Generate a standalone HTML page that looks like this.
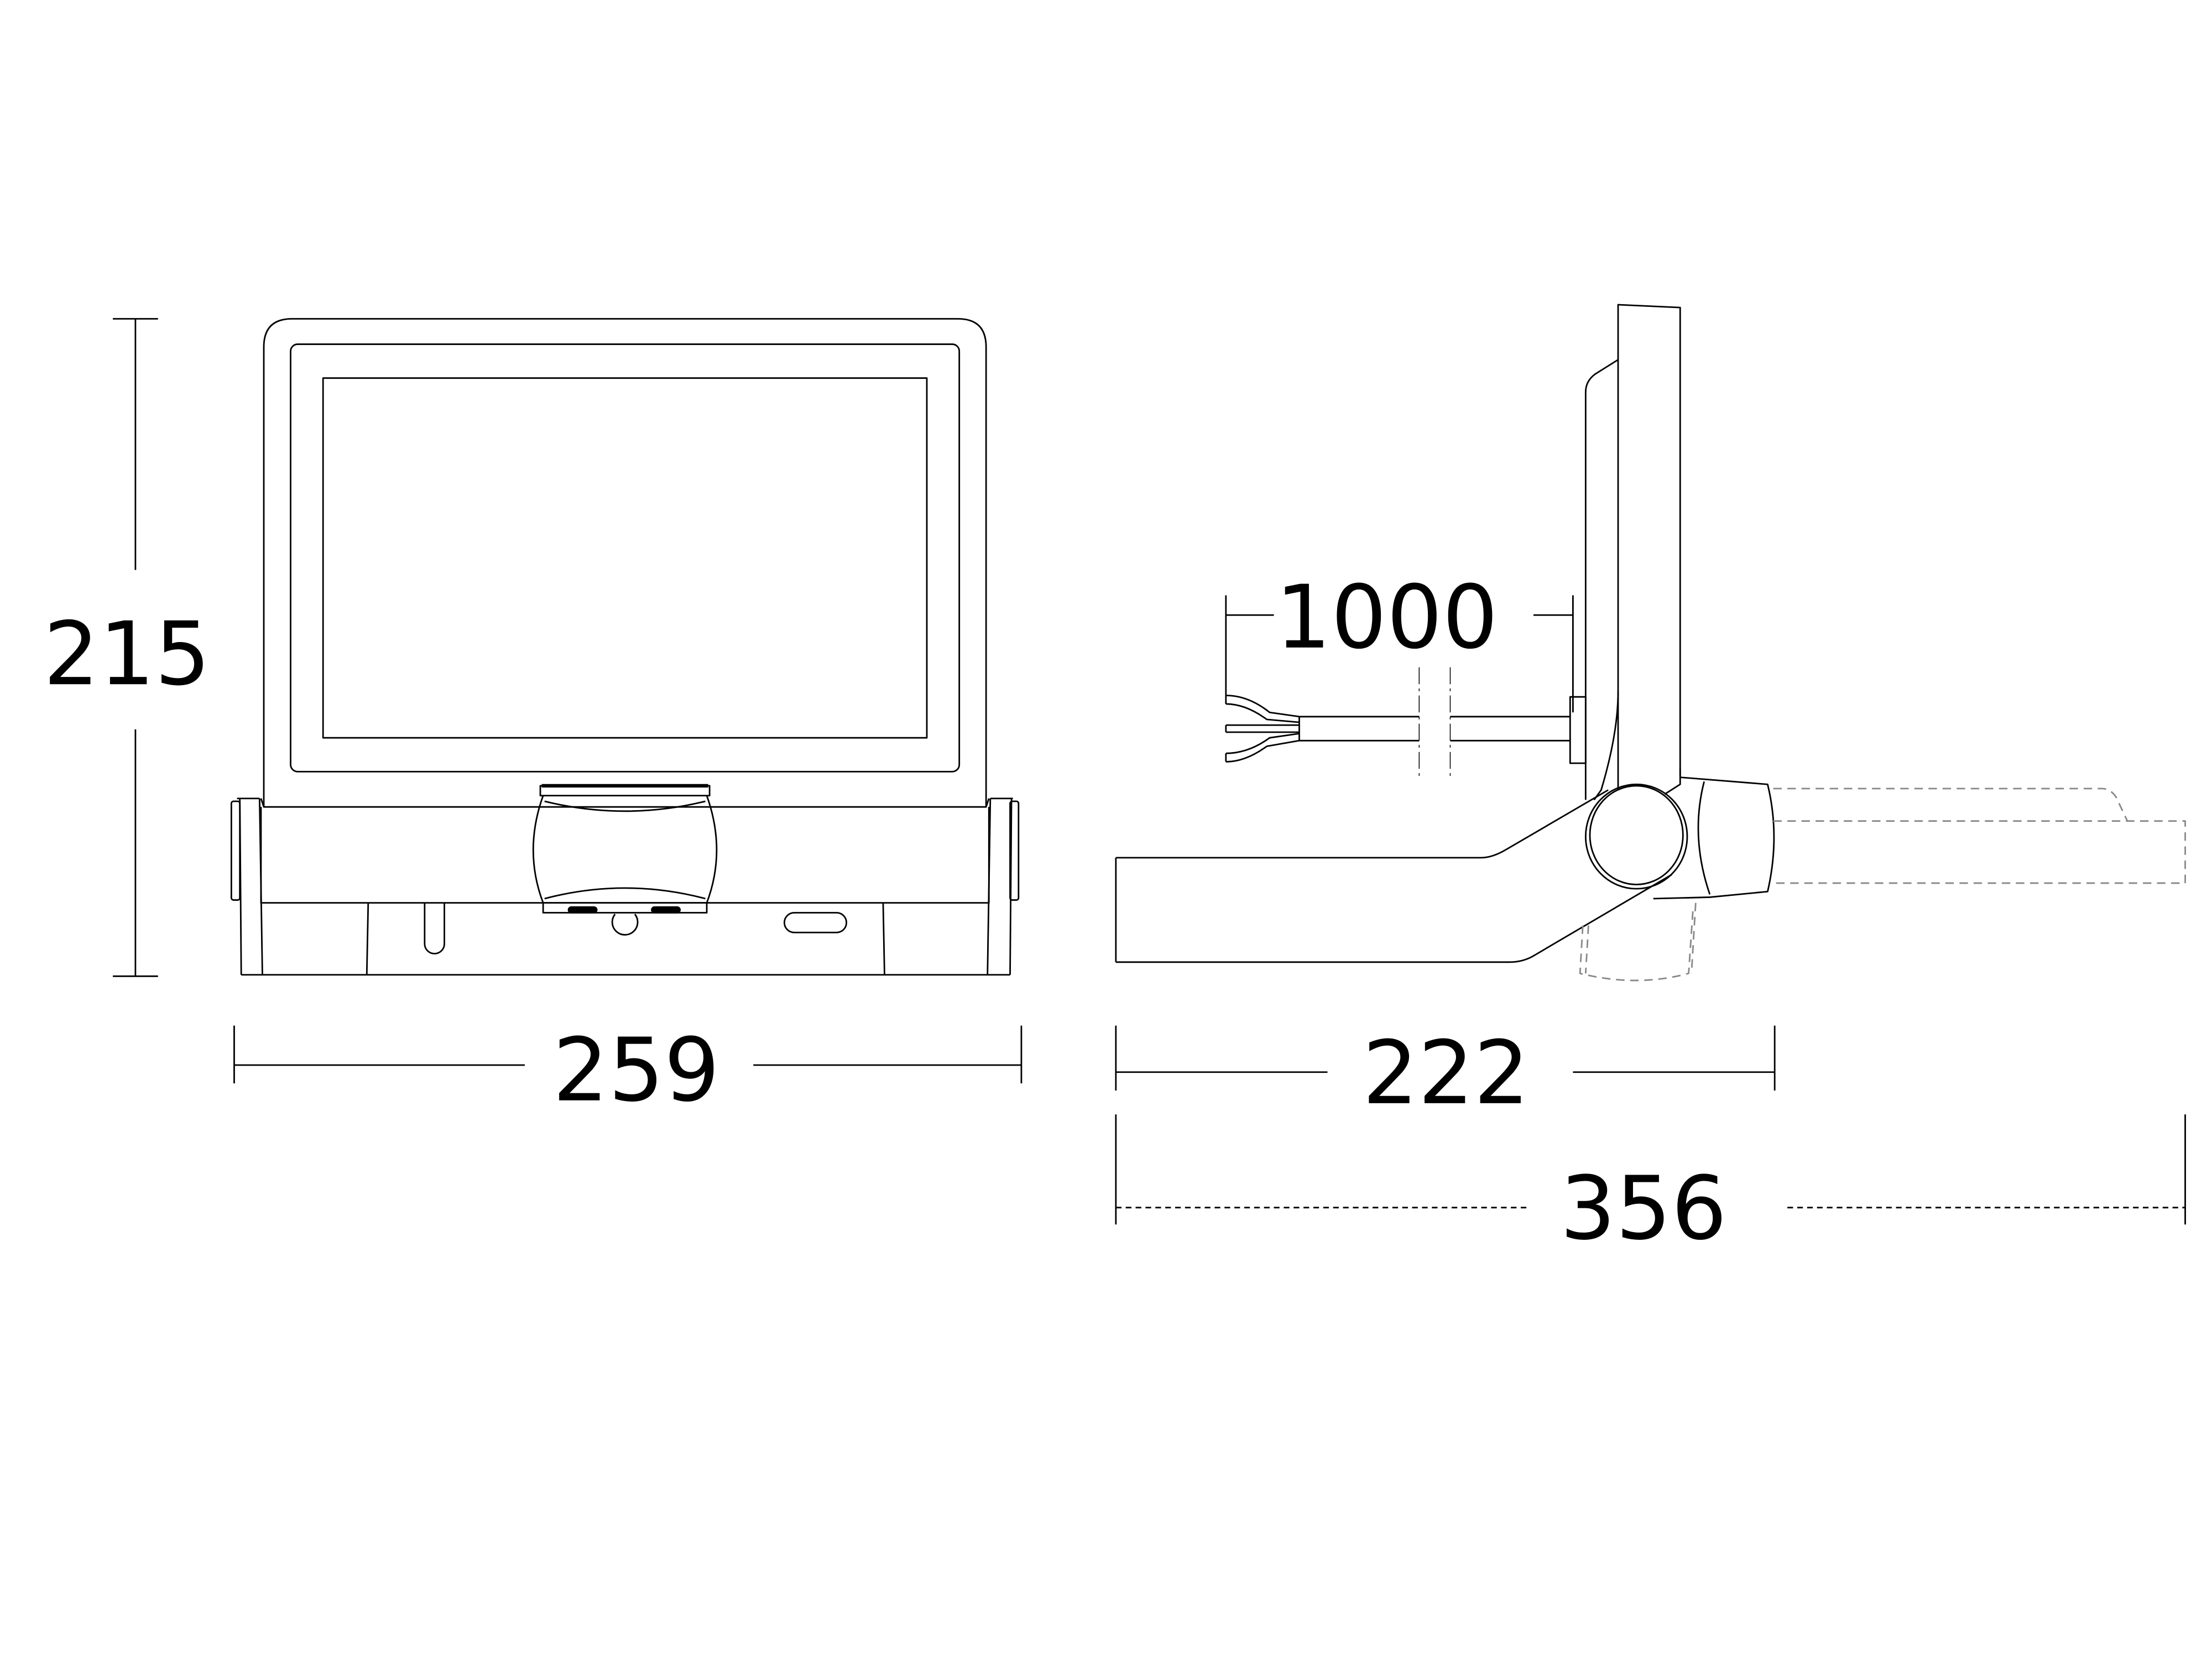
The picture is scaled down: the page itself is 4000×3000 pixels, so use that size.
<!DOCTYPE html>
<html><head><style>html,body{margin:0;padding:0;background:#fff}svg{display:block}</style></head>
<body>
<svg width="4000" height="3000" viewBox="0 0 1568 1176" xmlns="http://www.w3.org/2000/svg" fill="none" stroke="#000" stroke-width="1.1" stroke-linejoin="round">
<!-- 215 dim -->
<path d="M96 226V404M96 517V692M80 226H112M80 692H112"/>
<!-- left view body -->
<path d="M187 572V246Q187 226 207 226H679Q699 226 699 246V572"/>
<rect x="206" y="244" width="474" height="303" rx="5"/>
<rect x="229" y="268" width="428" height="255"/>
<path d="M185 566L187 572H699L701 566M185 572V640H701V572"/>
<path d="M171 691H716M184 566L186 691M702 566L700 691M170 566L171 691M717 566L716 691"/>
<rect x="164" y="568" width="6" height="70" rx="1.5"/><rect x="716" y="568" width="6" height="70" rx="1.5"/>
<path d="M168 566H184M702 566H718"/>
<path d="M261 640L260 691M626 640L627 691"/>
<path d="M301 640V669A7 7 0 0 0 315 669V640"/>
<path d="M436 648A9 9 0 1 0 450 648"/>
<rect x="556" y="647" width="44" height="14" rx="7"/>
<!-- knob -->
<rect x="383" y="557" width="120" height="7"/>
<path d="M384 557H502" stroke-width="2.5"/>
<path d="M385 564Q371 603 385 640H501Q515 603 501 564"/>
<path d="M386 568Q443 582 500 568"/>
<path d="M386 637Q443 622 500 637"/>
<path d="M385 640V647H501V640"/>
<rect x="403" y="643" width="20" height="4" rx="2" fill="#000"/><rect x="462" y="643" width="20" height="4" rx="2" fill="#000"/>
<!-- 259 -->
<path d="M166 755H372M534 755H724M166 727V768M724 727V768"/>
<!-- right view panel -->
<path d="M1147 560V216L1191 218V550"/>
<path d="M1147 255L1131 265Q1124 270 1124 278V567"/>
<path d="M1147 490Q1147 520 1135 560L1130 567"/>
<!-- arm -->
<path d="M791 608H1050Q1058 608 1068 602L1140 560"/>
<path d="M791 682H1070Q1080 682 1088 677L1185 620"/>
<path d="M791 608V682"/>
<path d="M1180 563L1191 556V545"/>
<ellipse cx="1160" cy="593" rx="36" ry="37"/>
<ellipse cx="1160" cy="592" rx="33" ry="35"/>
<!-- knob side -->
<path d="M1191 551L1253 556Q1262 593 1253 632L1212 636L1172 637"/>
<path d="M1208 554Q1198 593 1212 634"/>
<!-- dashed ghost -->
<g stroke="#888" stroke-dasharray="6 4">
<path d="M1257 559H1490Q1496 559 1500 565L1508 582"/>
<path d="M1257 582H1549V626H1257"/>
<path d="M1122 656L1120 690Q1160 700 1197 690L1200 646"/>
<path d="M1126 656L1124 690M1202 640L1199 690"/>
</g>
<!-- cable -->
<path d="M921 508H1006M1028 508H1113M921 525H1006M1028 525H1113M921 508V525"/>
<path d="M1006 473V553M1028 473V553" stroke-width="0.6" stroke-dasharray="12 3 2 3"/>
<rect x="1113" y="494" width="11" height="47"/>
<path d="M869 493Q885 493 900 505L921 508M869 499Q883 499 898 510L921 512M869 514H921M869 519H921M869 534Q885 534 900 523L921 520M869 540Q883 540 898 529L921 525"/>
<path d="M869 493V499M869 514V519M869 534V540"/>
<!-- 1000 -->
<path d="M869 422V493M1115 422V505M869 436H903M1087 436H1115"/>
<!-- 222 -->
<path d="M791 760H941M1115 760H1258M791 727V773M1258 727V773"/>
<!-- 356 -->
<path d="M791 856H1083M1267 856H1549" stroke-dasharray="4 3"/>
<path d="M791 790V868M1549 790V868"/>
<g fill="#000" stroke="none" font-family="'DejaVu Sans','Liberation Sans',sans-serif" font-size="62" text-anchor="middle">
<text x="90" y="485">215</text>
<text x="451" y="780">259</text>
<text x="983" y="459">1000</text>
<text x="1025" y="782">222</text>
<text x="1165" y="878">356</text>
</g>
</svg>
</body></html>
